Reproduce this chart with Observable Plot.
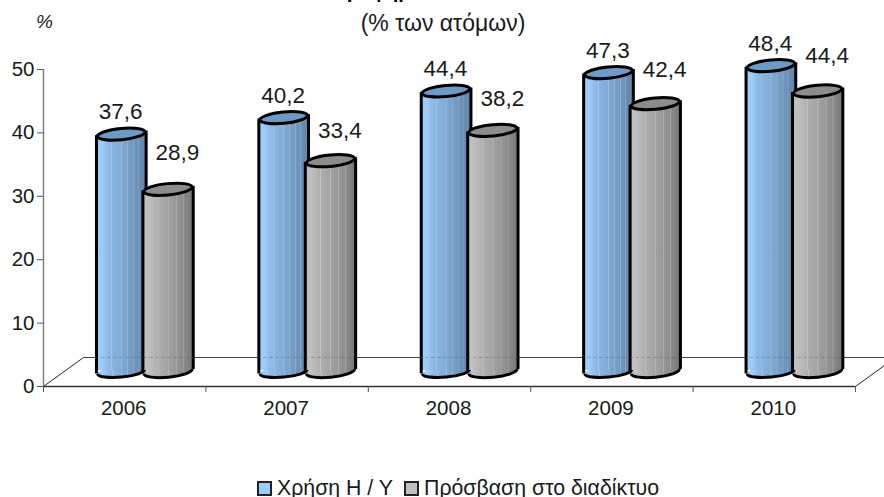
<!DOCTYPE html>
<html><head><meta charset="utf-8">
<script src="https://cdn.jsdelivr.net/npm/d3@7"></script>
<script src="https://cdn.jsdelivr.net/npm/@observablehq/plot@0.6"></script>
<style>
html,body{margin:0;padding:0;background:#fff;}
#page{position:relative;width:884px;height:497px;overflow:hidden;font-family:"Liberation Sans",Arial,sans-serif;color:#1a1a1a;}
#title{position:absolute;left:335px;top:-20px;font-size:20px;font-weight:bold;line-height:22px;white-space:nowrap;color:#000;}
#subtitle{position:absolute;left:0;width:884px;margin-left:1px;top:12px;text-align:center;font-size:23px;line-height:22px;}
#unit{position:absolute;left:36px;top:12px;font-size:19px;font-style:italic;line-height:20px;}
#legend{position:absolute;left:257px;top:478px;display:flex;align-items:center;font-size:21.3px;line-height:20px;white-space:nowrap;}
#legend i{display:inline-block;box-sizing:border-box;width:15px;height:15px;border:2.5px solid #222;margin-right:5px;}
#chart{position:absolute;left:0;top:0;}
</style></head><body>
<div id="page">
<div id="chart"></div>
<div id="title">Γράφημα</div>
<div id="subtitle">(% των ατόμων)</div>
<div id="unit">%</div>
<div id="legend"><i style="background:#99ccff"></i><span>Χρήση Η / Υ</span><i style="background:#c0c0c0;margin-left:11px"></i><span>Πρόσβαση στο διαδίκτυο</span></div>
</div>
<script>
const years = ["2006", "2007", "2008", "2009", "2010"];
const computerUse = [37.6, 40.2, 44.4, 47.3, 48.4];
const internetAccess = [28.9, 33.4, 38.2, 42.4, 44.4];
const yTicks = [0, 10, 20, 30, 40, 50];

// layout (in x-scale units = one category; pixels for offsets)
const barDy = -14, floorDy = -29, floorDx = 40 / 162.4, floorLift = 29 / 6.34;
const blueSpan = [0.326, 0.632], graySpan = [0.612, 0.922];
const blueLabelX = 0.475, grayLabelX = 0.825;
const grayLabelLift = [29, 22.7, 24, 26.6, 28];

function ellipseSymbol(closed) {
  return {
    draw(ctx, size) {
      const rx = Math.sqrt(size / Math.PI), ry = rx * 0.235, a = -5.5 * Math.PI / 180;
      const c = Math.cos(a), s = Math.sin(a), k = 0.5523;
      const P = (x, y) => [x * c - y * s, x * s + y * c];
      const seg = (x1, y1, x2, y2, x, y) => ctx.bezierCurveTo(...P(x1, y1), ...P(x2, y2), ...P(x, y));
      ctx.moveTo(...P(rx, 0));
      seg(rx, k * ry, k * rx, ry, 0, ry);
      seg(-k * rx, ry, -rx, k * ry, -rx, 0);
      if (closed) {
        seg(-rx, -k * ry, -k * rx, -ry, 0, -ry);
        seg(k * rx, -ry, rx, -k * ry, rx, 0);
        ctx.closePath();
      }
    }
  };
}
const ellipse = ellipseSymbol(true), lowerArc = ellipseSymbol(false);

function gradientDefs() {
  const defs = d3.create("svg:defs");
  const make = (id, stops) => {
    const g = defs.append("linearGradient").attr("id", id);
    stops.forEach(([o, c]) => g.append("stop").attr("offset", o).attr("stop-color", c));
  };
  make("blueBody", [[0,"#8cb8e6"],[.06,"#9fcdfb"],[.14,"#9ccafa"],[.22,"#8fbcea"],[.3,"#8ab6e2"],[.31,"#a3c8ee"],[.33,"#89b4e0"],[.5,"#82abd6"],[.51,"#9dbfe2"],[.53,"#7fa7d0"],[.62,"#7ba2cb"],[.63,"#97b8da"],[.65,"#789fc8"],[.74,"#7398c0"],[.75,"#92b2d2"],[.77,"#7095bc"],[.84,"#6c90b6"],[.85,"#8aa8c8"],[.87,"#6a8db2"],[1,"#6486a9"]]);
  make("grayBody", [[0,"#a8a8a8"],[.07,"#c2c2c2"],[.15,"#bdbdbd"],[.3,"#b0b0b0"],[.31,"#c4c4c4"],[.33,"#adadad"],[.5,"#a3a3a3"],[.51,"#bcbcbc"],[.53,"#a0a0a0"],[.66,"#989898"],[.67,"#b0b0b0"],[.69,"#959595"],[.8,"#8c8c8c"],[.81,"#a4a4a4"],[.83,"#8a8a8a"],[1,"#757575"]]);
  return defs.node();
}

function cylinder(values, [a, b], gradient, topFill) {
  const rows = values.map((v, i) => ({v, i}));
  const cx = d => d.i + (a + b) / 2;
  const r = (b - a) / 2 * 162.4 - 1;
  const line = {stroke: "#000", strokeWidth: 3};
  return [
    Plot.dot(rows, {x: cx, y: () => 0, r, symbol: ellipse, fill: gradient, stroke: "none", dy: barDy - 1}),
    Plot.rect(rows, {x1: d => d.i + a, x2: d => d.i + b, y1: () => 0, y2: d => d.v, fill: gradient, dy: barDy, insetBottom: 2}),
    Plot.dot(rows, {x: cx, y: () => 0, r, symbol: lowerArc, fill: "none", ...line, dy: barDy - 1}),
    Plot.ruleX(rows, {x: d => d.i + a, y1: () => 0, y2: d => d.v, ...line, dy: barDy + 1.5}),
    Plot.ruleX(rows, {x: d => d.i + b, y1: () => 0, y2: d => d.v, ...line, dy: barDy - 3}),
    Plot.dot(rows, {x: cx, y: d => d.v, r, symbol: ellipse, fill: topFill, ...line, dy: barDy})
  ];
}

const font = {fontFamily: "Liberation Sans, Arial, sans-serif", fill: "#1a1a1a"};
const blueRows = computerUse.map((v, i) => ({v, i}));
const grayRows = internetAccess.map((v, i) => ({v, i, lift: grayLabelLift[i]}));
const fmt = d => d.v.toFixed(1).replace(".", ",");

const chart = Plot.plot({
  width: 884, height: 470,
  marginLeft: 43, marginRight: 29, marginTop: 69, marginBottom: 84,
  x: {domain: [0, 5], label: null},
  y: {domain: [0, 50], label: null},
  marks: [
    gradientDefs,
    // floor outline
    Plot.line([{x: 0, y: 0}, {x: floorDx, y: floorLift}], {x: "x", y: "y", stroke: "#222", strokeWidth: 1}),
    Plot.line([{x: 5, y: 0}, {x: 5 + floorDx, y: floorLift}], {x: "x", y: "y", stroke: "#222", strokeWidth: 1}),
    Plot.line([{x: floorDx, y: 0}, {x: 5 + floorDx, y: 0}], {x: "x", y: "y", stroke: "#444", strokeWidth: 1, dy: floorDy}),
    ...cylinder(computerUse, blueSpan, "url(#blueBody)", "#6e9ac6"),
    ...cylinder(internetAccess, graySpan, "url(#grayBody)", "#8c8c8c"),
    // back floor edge faintly visible through the bars
    Plot.line([{x: floorDx, y: 0}, {x: 5 + floorDx, y: 0}], {x: "x", y: "y", stroke: "#444", strokeOpacity: .3, strokeDasharray: "3 3", strokeWidth: 1, dy: floorDy}),
    // axes
    Plot.ruleX([0], {y1: () => 0, y2: () => 50, stroke: "#808080", strokeWidth: 1.5}),
    Plot.ruleY([0], {x1: () => 0, x2: () => 5, stroke: "#333", strokeWidth: 1.5}),
    Plot.axisY({ticks: yTicks, tickSize: 6, tickPadding: 3, stroke: "#555", ...font, fontSize: 20.5, tickFormat: d => d, label: null}),
    Plot.axisX({ticks: d3.range(6), tickSize: 6, stroke: "#555", tickFormat: () => "", label: null}),
    Plot.axisX({ticks: years.map((y, i) => i + .5), tickSize: 0, tickPadding: 14, dx: -1, ...font, fontSize: 20.5, tickFormat: d => years[d - .5], label: null}),
    // data labels
    Plot.text(blueRows, {x: d => d.i + blueLabelX, y: d => d.v, text: fmt, ...font, fontSize: 22.5, lineAnchor: "bottom", dy: barDy - 15}),
    Plot.text(grayRows, {x: d => d.i + grayLabelX, y: d => d.v + d.lift / 6.34, text: fmt, ...font, fontSize: 22.5, lineAnchor: "bottom", dy: barDy})
  ]
});
document.getElementById("chart").appendChild(chart);
</script>
</body></html>
